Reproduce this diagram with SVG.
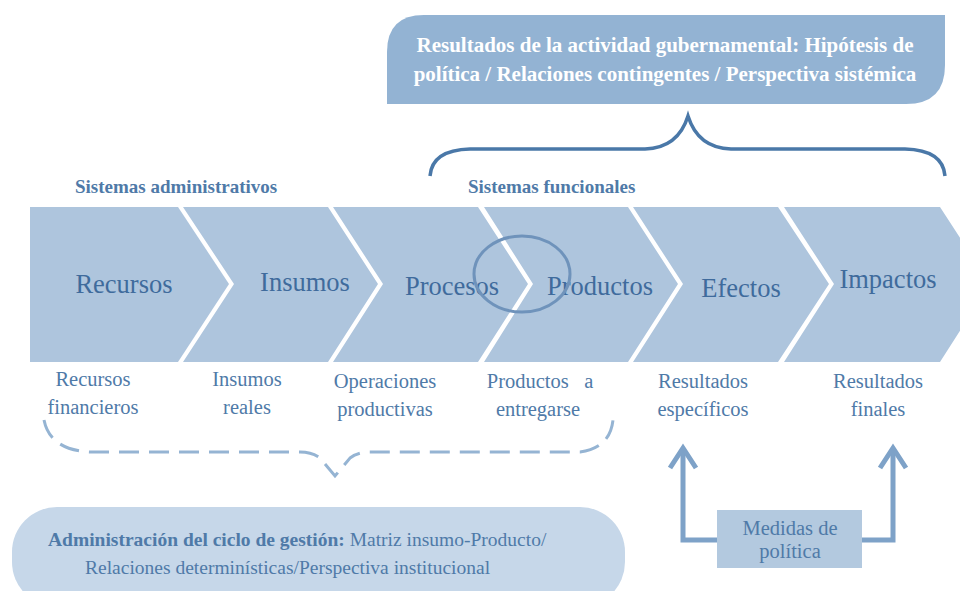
<svg xmlns="http://www.w3.org/2000/svg" width="960" height="591" viewBox="0 0 960 591">
<defs>
<style>
text{font-family:"Liberation Serif","DejaVu Serif",serif;}
.chev{fill:#aec5dd;}
.big{font-size:26.5px;fill:#3f6b9c;text-anchor:middle;}
.lab{font-size:20.5px;fill:#4f7aa8;text-anchor:middle;}
.hdr{font-size:19px;font-weight:bold;fill:#4f7aa8;}
.top{font-size:21px;font-weight:bold;fill:#ffffff;text-anchor:middle;}
.bot{font-size:19.5px;fill:#4f7aa8;}
.arr{fill:none;stroke:#7ea2c8;stroke-width:5;stroke-linejoin:miter;}
</style>
</defs>
<rect width="960" height="591" fill="#ffffff"/>

<g id="top-box">
<path d="M424,15 L945,15 L945,65 Q945,104 906,104 L387,104 L387,52 Q387,15 424,15 Z" fill="#93b3d3"/>
<text class="top" x="665" y="52">Resultados de la actividad gubernamental: Hipótesis de</text>
<text class="top" x="665" y="81">política / Relaciones contingentes / Perspectiva sistémica</text>
</g>

<g id="headers">
<text class="hdr" x="75" y="193">Sistemas administrativos</text>
<text class="hdr" x="468" y="193">Sistemas funcionales</text>
</g>

<g id="recursos">
<path class="chev" d="M30,207 L178,207 L229,284 L178,362 L30,362 Z"/>
<text class="big" x="124" y="293">Recursos</text>
</g>
<g id="insumos">
<path class="chev" d="M183,207 L328,207 L378,284 L328,362 L183,362 L234,284 Z"/>
<text class="big" x="305" y="291">Insumos</text>
</g>
<g id="procesos">
<path class="chev" d="M333,207 L478,207 L528,284 L478,362 L333,362 L383,284 Z"/>
<text class="big" x="452" y="295">Procesos</text>
</g>
<g id="productos">
<path class="chev" d="M484,207 L628,207 L678,284 L628,362 L484,362 L533,284 Z"/>
<text class="big" x="600" y="295">Productos</text>
</g>
<g id="efectos">
<path class="chev" d="M633,207 L778,207 L829,284 L778,362 L633,362 L683,284 Z"/>
<text class="big" x="741" y="297">Efectos</text>
</g>
<g id="impactos">
<path class="chev" d="M784,207 L940,207 L990,284 L940,362 L784,362 L834,284 Z"/>
<text class="big" x="888" y="288">Impactos</text>
</g>

<g id="connectors">
<path d="M430,176 Q432,150 470,149 L645,149 Q678,148 688,116 Q698,148 731,149 L905,149 Q943,150 945,176" fill="none" stroke="#4a78a8" stroke-width="3.5"/>
<ellipse cx="522" cy="274" rx="48" ry="38" fill="none" stroke="#6f93bb" stroke-width="3"/>
<path d="M44,420 Q50,450 90,452 L300,452 Q312,452 320,458 L335,476 L350,458 Q358,452 370,452 L580,452 Q610,448 613,420" fill="none" stroke="#95b4d3" stroke-width="3" stroke-dasharray="20 10"/>
<path class="arr" d="M718,540 L683,540 L683,452"/>
<path class="arr" d="M670,468 L683,448 L696,468"/>
<path class="arr" d="M862,540 L893,540 L893,452"/>
<path class="arr" d="M880,468 L893,448 L906,468"/>
</g>

<g id="sub-labels">
<text class="lab" x="93" y="386">Recursos</text>
<text class="lab" x="93" y="414">financieros</text>
<text class="lab" x="247" y="386">Insumos</text>
<text class="lab" x="247" y="414">reales</text>
<text class="lab" x="385" y="388">Operaciones</text>
<text class="lab" x="385" y="416">productivas</text>
<text class="lab" x="540" y="388" xml:space="preserve">Productos   a</text>
<text class="lab" x="538" y="416">entregarse</text>
<text class="lab" x="703" y="388">Resultados</text>
<text class="lab" x="703" y="416">específicos</text>
<text class="lab" x="878" y="388">Resultados</text>
<text class="lab" x="878" y="416">finales</text>
</g>

<g id="medidas">
<rect x="717" y="510" width="145" height="58" fill="#b3c9df"/>
<text class="lab" x="790" y="535">Medidas de</text>
<text class="lab" x="790" y="558">política</text>
</g>

<g id="bottom-box">
<rect x="12" y="507" width="613" height="100" rx="45" ry="45" fill="#c6d7e9"/>
<text class="bot" x="48" y="546"><tspan font-weight="bold">Administración del ciclo de gestión:</tspan> Matriz insumo-Producto/</text>
<text class="bot" x="85" y="574">Relaciones determinísticas/Perspectiva institucional</text>
</g>
</svg>
